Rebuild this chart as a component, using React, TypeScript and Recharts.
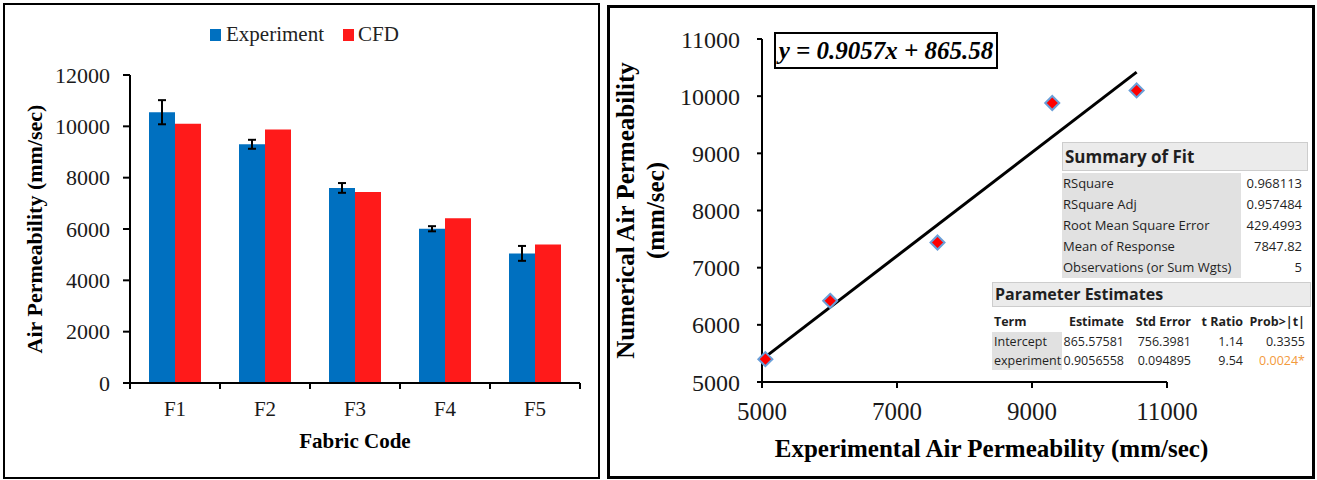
import React from 'react';
import { Bar, BarChart, ErrorBar, Label, ReferenceLine, Scatter, ScatterChart, XAxis, YAxis } from 'recharts';

// values
const fabricCodes = ['F1', 'F2', 'F3', 'F4', 'F5'];
const experimentValues = [10550, 9300, 7600, 6010, 5050];
const experimentErrors = [470, 175, 190, 100, 290];
const cfdValues = [10100, 9880, 7440, 6420, 5400];
const barTicks = [0, 2000, 4000, 6000, 8000, 10000, 12000];
const fitXTicks = [5000, 7000, 9000, 11000];
const fitYTicks = [5000, 6000, 7000, 8000, 9000, 10000, 11000];
const fitSlope = 0.9057;
const fitIntercept = 865.58;

const summaryLabels = ['RSquare', 'RSquare Adj', 'Root Mean Square Error', 'Mean of Response', 'Observations (or Sum Wgts)'];
const summaryValues = ['0.968113', '0.957484', '429.4993', '7847.82', '5'];
const paramColumns = ['Term', 'Estimate', 'Std Error', 't Ratio', 'Prob>|t|'];
const interceptRow = ['Intercept', '865.57581', '756.3981', '1.14', '0.3355'];
const slopeRow = ['experiment', '0.9056558', '0.094895', '9.54', '0.0024*'];

const barData = fabricCodes.map((name, i) => ({
  name,
  experiment: experimentValues[i],
  err: experimentErrors[i],
  cfd: cfdValues[i],
}));
const scatterData = experimentValues.map((x, i) => ({ x, y: cfdValues[i] }));
const fitX = [Math.min(...experimentValues), Math.max(...experimentValues)];
const fitSegment = fitX.map((x) => ({ x, y: fitSlope * x + fitIntercept }));

const SERIF = "'Times New Roman', 'Liberation Serif', serif";
const SANS = "'Open Sans', 'Noto Sans', sans-serif";

const BAR_W = 600;
const BAR_H = 480;
const BAR_MARGIN = { top: 75, right: 20, bottom: 27, left: 0 };
const BAR_YAXIS_W = 130;
const BAR_PLOT_W = BAR_W - BAR_MARGIN.left - BAR_MARGIN.right - BAR_YAXIS_W;

const FIT_W = 717;
const FIT_H = 480;
const FIT_MARGIN = { top: 39, right: 150, bottom: 28, left: 0 };

const axisStroke = { stroke: '#000', strokeWidth: 2 };

function FabricTick({ x, y, payload, index }: any) {
  const half = BAR_PLOT_W / fabricCodes.length / 2;
  const axisY = y - 18;
  return (
    <g>
      <line x1={x - half} x2={x - half} y1={axisY} y2={axisY + 6} stroke="#000" strokeWidth={2} />
      {index === fabricCodes.length - 1 && (
        <line x1={x + half} x2={x + half} y1={axisY} y2={axisY + 6} stroke="#000" strokeWidth={2} />
      )}
      <text x={x} y={y} dy="0.71em" textAnchor="middle" fontFamily={SERIF} fontSize={21} fill="#1a1a1a">
        {payload.value}
      </text>
    </g>
  );
}

function BottomTitle({ viewBox, text, size, shift, drop }: any) {
  const { x, y, width } = viewBox;
  return (
    <text x={x + width / 2 + shift} y={y + drop} textAnchor="middle" fontFamily={SERIF} fontWeight="bold" fontSize={size} fill="#000">
      {text}
    </text>
  );
}

function SideTitle({ viewBox, text, size, inset }: any) {
  const { x, y, height } = viewBox;
  const cx = x + inset;
  const cy = y + height / 2;
  return (
    <text
      x={cx}
      y={cy}
      dy="0.33em"
      transform={`rotate(-90 ${cx} ${cy})`}
      textAnchor="middle"
      fontFamily={SERIF}
      fontWeight="bold"
      fontSize={size}
      fill="#000"
    >
      {text}
    </text>
  );
}

function Diamond({ cx, cy }: any) {
  const r = 7;
  return (
    <path
      d={`M${cx},${cy - r}L${cx + r},${cy}L${cx},${cy + r}L${cx - r},${cy}Z`}
      fill="#FF0000"
      stroke="#6A9FD8"
      strokeWidth={2}
    />
  );
}

function ComparisonChart() {
  return (
    <div style={{ position: 'absolute', left: 0, top: 0, width: BAR_W, height: BAR_H }}>
      <BarChart width={BAR_W} height={BAR_H} data={barData} margin={BAR_MARGIN} barGap={0}>
        <XAxis
          dataKey="name"
          height={70}
          axisLine={axisStroke}
          tickLine={false}
          tickSize={0}
          tickMargin={18}
          tick={<FabricTick />}
        >
          <Label content={(p: any) => <BottomTitle {...p} text="Fabric Code" size={21} shift={0} drop={65} />} />
        </XAxis>
        <YAxis
          width={BAR_YAXIS_W}
          domain={[0, 12000]}
          ticks={barTicks}
          interval={0}
          axisLine={axisStroke}
          tickLine={axisStroke}
          tickSize={7}
          tickMargin={13}
          tick={{ fontFamily: SERIF, fontSize: 22, fill: '#1a1a1a' }}
        >
          <Label content={(p: any) => <SideTitle {...p} text="Air Permeability (mm/sec)" size={22} inset={35} />} />
        </YAxis>
        <Bar dataKey="experiment" fill="#0070C0" barSize={26} isAnimationActive={false}>
          <ErrorBar dataKey="err" width={4} strokeWidth={2} stroke="#000" />
        </Bar>
        <Bar dataKey="cfd" fill="#FF1A1A" barSize={26} isAnimationActive={false} />
      </BarChart>
      <div style={{ position: 'absolute', left: 210, top: 22, display: 'flex', alignItems: 'center', fontFamily: SERIF, fontSize: 21, color: '#222' }}>
        <span style={{ width: 11, height: 12, background: '#0070C0', marginRight: 5 }} />
        <span style={{ marginRight: 19 }}>Experiment</span>
        <span style={{ width: 11, height: 12, background: '#FF1A1A', marginRight: 4 }} />
        <span>CFD</span>
      </div>
    </div>
  );
}

function FitChart() {
  return (
    <div style={{ position: 'absolute', left: 600, top: 0, width: FIT_W, height: FIT_H }}>
      <ScatterChart width={FIT_W} height={FIT_H} margin={FIT_MARGIN}>
        <XAxis
          type="number"
          dataKey="x"
          domain={[5000, 11000]}
          ticks={fitXTicks}
          interval={0}
          height={70}
          axisLine={axisStroke}
          tickLine={axisStroke}
          tickSize={6}
          tickMargin={14}
          tick={{ fontFamily: SERIF, fontSize: 25, fill: '#1a1a1a' }}
        >
          <Label
            content={(p: any) => (
              <BottomTitle {...p} text="Experimental Air Permeability (mm/sec)" size={25} shift={27} drop={75} />
            )}
          />
        </XAxis>
        <YAxis
          type="number"
          dataKey="y"
          width={162}
          domain={[5000, 11000]}
          ticks={fitYTicks}
          interval={0}
          axisLine={axisStroke}
          tickLine={axisStroke}
          tickSize={5}
          tickMargin={17}
          tick={{ fontFamily: SERIF, fontSize: 24, fill: '#1a1a1a' }}
        >
          <Label content={(p: any) => <SideTitle {...p} text="Numerical Air Permeability" size={25} inset={26} />} />
          <Label content={(p: any) => <SideTitle {...p} text="(mm/sec)" size={25} inset={56} />} />
        </YAxis>
        <ReferenceLine segment={fitSegment} stroke="#000" strokeWidth={3} />
        <Scatter data={scatterData} shape={<Diamond />} isAnimationActive={false} />
      </ScatterChart>
    </div>
  );
}

function SummaryOfFit() {
  return (
    <>
      <div
        style={{
          position: 'absolute', left: 1062, top: 142, width: 246, height: 29, boxSizing: 'border-box',
          background: '#ebebeb', border: '1px solid #cdcdcd', font: `bold 17px ${SANS}`, color: '#1f1f1f',
          paddingLeft: 2, lineHeight: '27px',
        }}
      >
        Summary of Fit
      </div>
      {summaryLabels.map((label, i) => (
        <div
          key={label}
          style={{ position: 'absolute', left: 1062, top: 173 + i * 21, width: 246, height: 21, font: `13px ${SANS}`, lineHeight: '21px', color: '#1f1f1f' }}
        >
          <div style={{ position: 'absolute', left: 0, top: 0, width: 179, height: 21, background: '#e1e1e1', paddingLeft: 1, boxSizing: 'border-box', whiteSpace: 'nowrap' }}>
            {label}
          </div>
          <div style={{ position: 'absolute', right: 6, top: 0 }}>{summaryValues[i]}</div>
        </div>
      ))}
    </>
  );
}

const paramRight = [0, 132, 199, 251, 313];

function ParamRow({ cells, top, bold, gray }: { cells: string[]; top: number; bold?: boolean; gray?: boolean }) {
  return (
    <div style={{ position: 'absolute', left: 992, top, width: 319, height: 19, font: `${bold ? 'bold ' : ''}12.5px ${SANS}`, lineHeight: '19px', color: '#1f1f1f' }}>
      {gray && <div style={{ position: 'absolute', left: 0, top: 0, width: 70, height: 19, background: '#e1e1e1' }} />}
      {cells.map((c, j) =>
        j === 0 ? (
          <span key={j} style={{ position: 'absolute', left: 2, top: 0 }}>{c}</span>
        ) : (
          <span
            key={j}
            style={{ position: 'absolute', right: 319 - paramRight[j], top: 0, whiteSpace: 'nowrap', color: c.endsWith('*') ? '#F39A3C' : undefined }}
          >
            {c}
          </span>
        ),
      )}
    </div>
  );
}

function ParameterEstimates() {
  return (
    <>
      <div
        style={{
          position: 'absolute', left: 992, top: 282, width: 319, height: 25, boxSizing: 'border-box',
          background: '#ebebeb', border: '1px solid #cdcdcd', font: `bold 16px ${SANS}`, color: '#1f1f1f',
          paddingLeft: 2, lineHeight: '23px',
        }}
      >
        Parameter Estimates
      </div>
      <ParamRow cells={paramColumns} top={312} bold />
      <ParamRow cells={interceptRow} top={332} gray />
      <ParamRow cells={slopeRow} top={351} gray />
    </>
  );
}

export default function App() {
  return (
    <div style={{ position: 'absolute', left: 0, top: 0, width: 1317, height: 480, background: '#fff', overflow: 'hidden' }}>
      <div style={{ position: 'absolute', left: 3, top: 3, width: 597, height: 476, boxSizing: 'border-box', border: '2px solid #000' }} />
      <div style={{ position: 'absolute', left: 607, top: 5, width: 708, height: 474, boxSizing: 'border-box', border: '3px solid #000' }} />
      <ComparisonChart />
      <FitChart />
      <div
        style={{
          position: 'absolute', left: 774, top: 32, width: 224, height: 37, boxSizing: 'border-box', border: '2px solid #000',
          fontFamily: SERIF, fontWeight: 'bold', fontStyle: 'italic', fontSize: 25, lineHeight: '33px', textAlign: 'center',
          whiteSpace: 'nowrap', background: '#fff',
        }}
      >
        y = 0.9057x + 865.58
      </div>
      <SummaryOfFit />
      <ParameterEstimates />
    </div>
  );
}
